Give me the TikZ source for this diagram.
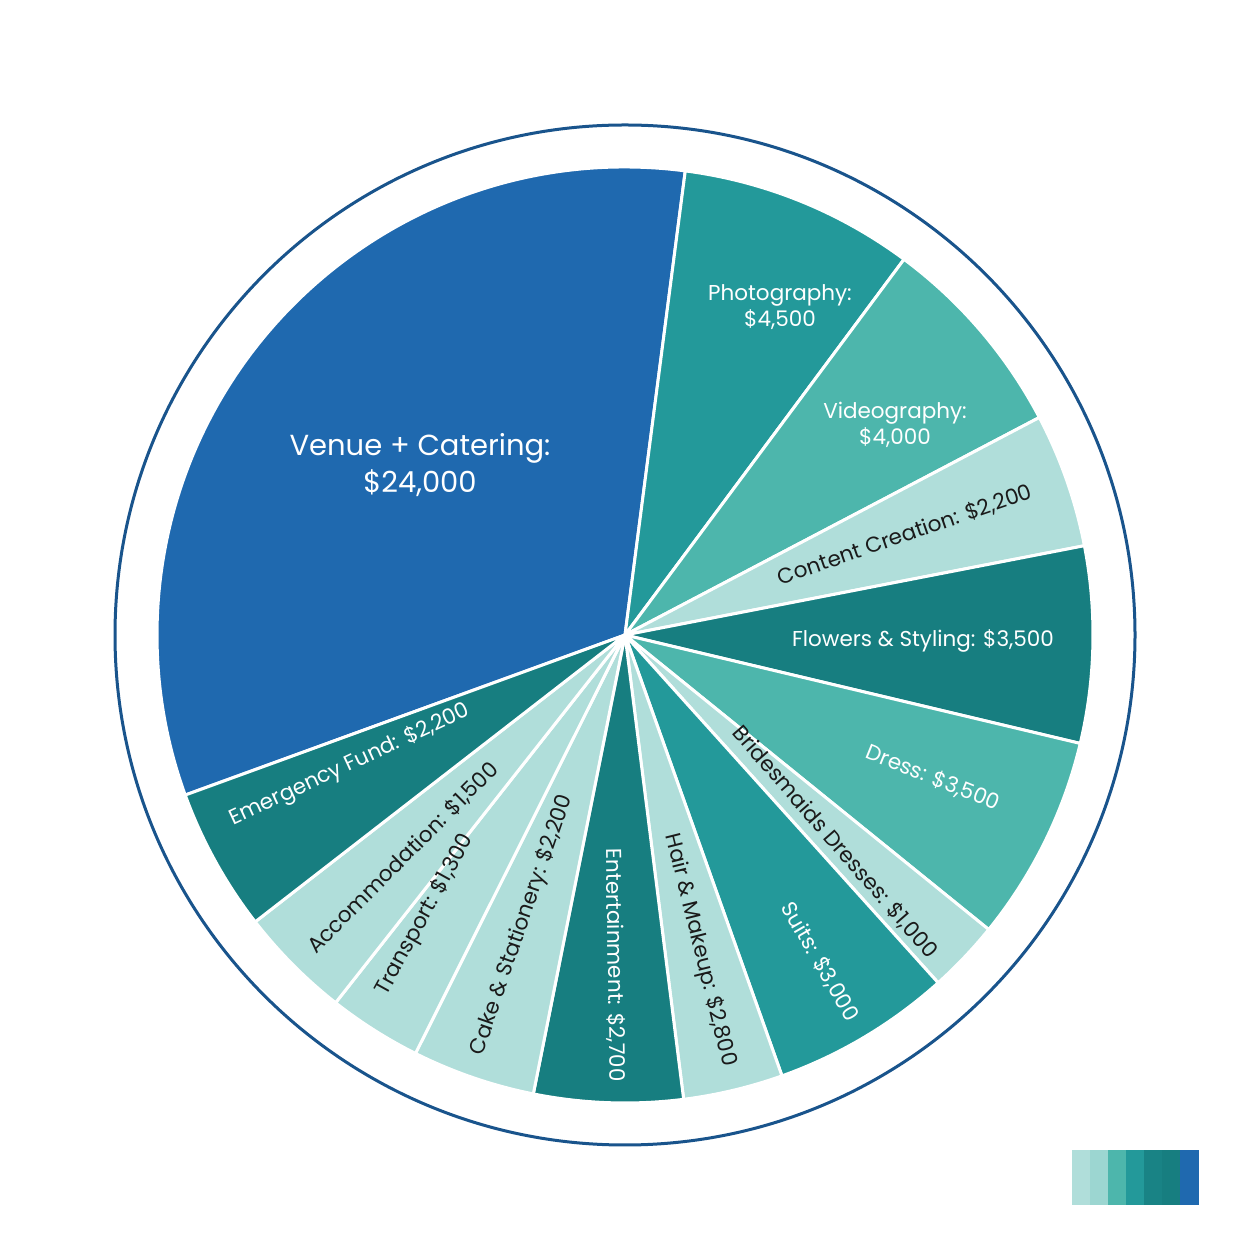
\documentclass[tikz,border=0pt]{standalone}
\usepackage{fontspec}
\setmainfont{Poppins}
\definecolor{cblue}{HTML}{1F69AF}
\definecolor{cteal}{HTML}{23999A}
\definecolor{cmid}{HTML}{4DB6AC}
\definecolor{clight}{HTML}{B0DEDA}
\definecolor{cdark}{HTML}{177E80}
\definecolor{ctext}{HTML}{1A1A1A}
\tikzset{
  slice/.style={draw=white,line width=3pt,line join=round},
  wl/.style={text=white,font=\fontsize{21.5}{26}\selectfont,align=center},
  dl/.style={text=ctext,font=\fontsize{21.5}{26}\selectfont,align=center},
}
\begin{document}
\begin{tikzpicture}[x=1pt,y=1pt]
\useasboundingbox (0,0) rectangle (1240,1240);
\fill[white] (0,0) rectangle (1240,1240);
\coordinate (c) at (625,605);
\draw[cblue!80!black,line width=3pt] (c) circle (510);
\foreach \a/\b/\col in {82.6/200/cblue, 53.4/82.6/cteal, 27.7/53.4/cmid, 11/27.7/clight,
  -13.4/11/cdark, -39/-13.4/cmid, -48/-39/clight, -70.4/-48/cteal, -82.8/-70.4/clight,
  -101.3/-82.8/cdark, -116.6/-101.3/clight, -128.2/-116.6/clight, -142.2/-128.2/clight,
  -160/-142.2/cdark}{
  \filldraw[slice,fill=\col] (c) -- ++(\a:468) arc[start angle=\a,end angle=\b,radius=468] -- cycle;
}
\node[wl,font=\fontsize{29}{37}\selectfont] (venue) at (420,775) {Venue + Catering:\\\$24,000};
\node[wl] (photo) at (780,933) {Photography:\\\$4,500};
\node[wl] (video) at (895,815) {Videography:\\\$4,000};
\node[dl,rotate=19] (content) at (905,705) {Content Creation: \$2,200};
\node[wl] (flowers) at (923,599) {Flowers \& Styling: \$3,500};
\node[wl,rotate=-22] (dress) at (933,462) {Dress: \$3,500};
\node[dl,rotate=-49] (brides) at (835,398) {Bridesmaids Dresses: \$1,000};
\node[wl,rotate=-60] (suits) at (820,278) {Suits: \$3,000};
\node[dl,rotate=-76] (hair) at (700,290) {Hair \& Makeup: \$2,800};
\node[wl,rotate=-89] (ent) at (615,275) {Entertainment: \$2,700};
\node[dl,rotate=71] (cake) at (522,315) {Cake \& Stationery: \$2,200};
\node[dl,rotate=61] (trans) at (425,325) {Transport: \$1,300};
\node[dl,rotate=45] (acc) at (403,382) {Accommodation: \$1,500};
\node[wl,rotate=25] (emerg) at (350,475) {Emergency Fund: \$2,200};
\foreach \i/\col in {0/clight,1/clight!80!cmid,2/cmid,3/cteal,4/cdark!80!cteal,5/cdark,6/cblue}{
  \fill[\col] (1072+\i*18,35) rectangle (1072+\i*18+18.5,90);
}
\end{tikzpicture}
\end{document}
